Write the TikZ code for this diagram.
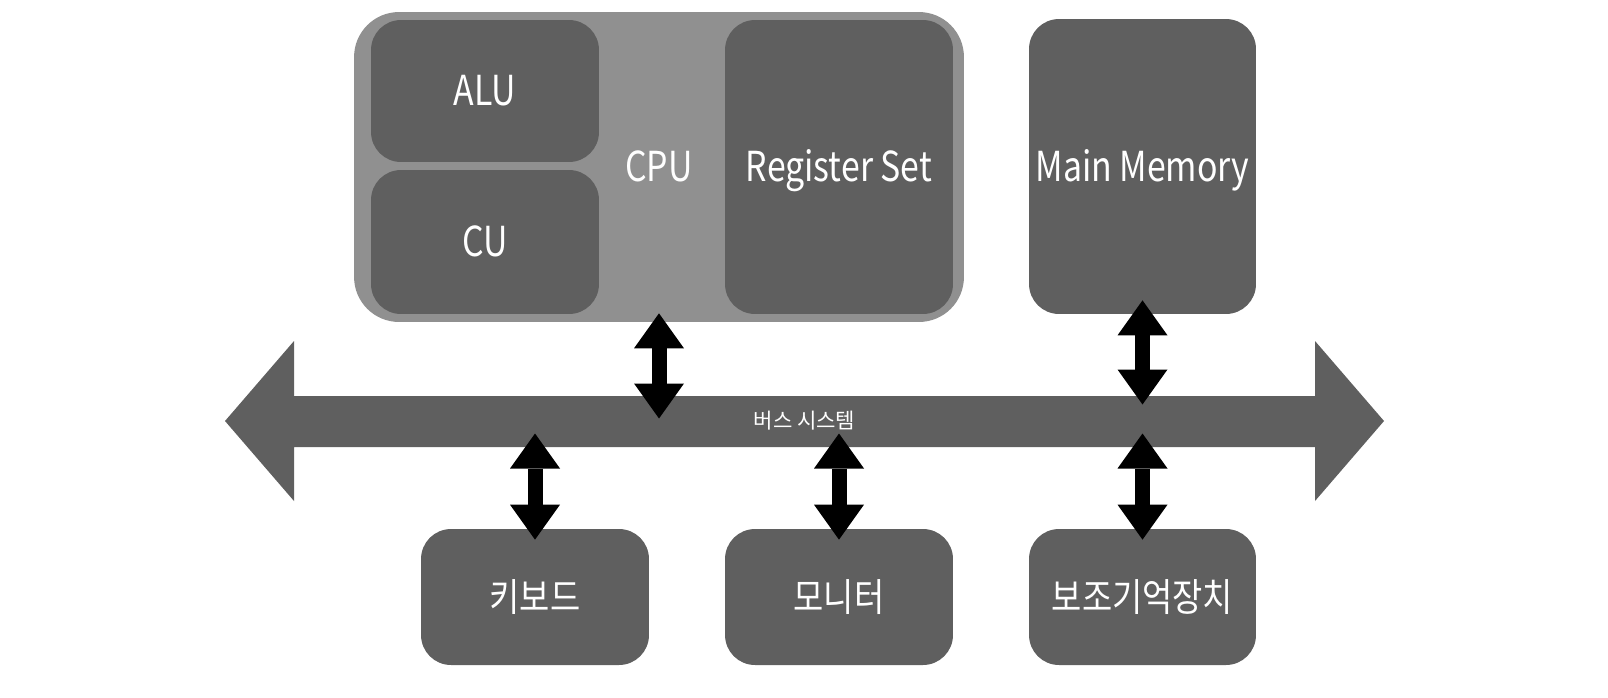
\documentclass[tikz,border=0pt]{standalone}
\usepackage{fontspec}
\setmainfont{Noto Sans CJK KR}[FakeStretch=0.82]
\newfontfamily\kofont{Noto Sans CJK KR}[FakeStretch=0.85]
\newfontfamily\busfont{Noto Sans CJK KR}
\usetikzlibrary{arrows.meta, calc}

\definecolor{boxgray}{RGB}{95,95,95}
\definecolor{cpugray}{RGB}{144,144,144}

\begin{document}
\begin{tikzpicture}[
    x=0.02cm, y=-0.02cm, % one unit = one pixel of the sketch, y runs down
    unit/.style={fill=boxgray, text=white, rounded corners=0.6cm, inner sep=0pt,
        minimum width=4.56cm}, % dark unit boxes
    latin/.style={text height=17pt, text depth=0pt, font=\fontsize{23.5}{28}\selectfont},
    box/.style={unit, latin},
    kobox/.style={unit, minimum height=2.72cm, font=\kofont\fontsize{22}{26}\selectfont},
    dblarrow/.style={line width=0.3cm,
        {Triangle[width=1cm, length=0.7cm, line width=0pt]}-{Triangle[width=1cm, length=0.7cm, line width=0pt]}}
]

\useasboundingbox (0,0) rectangle (1608,697);

% CPU with its parts
\node[fill=cpugray, text=white, rounded corners=0.9cm, minimum width=12.2cm, minimum height=6.2cm,
      latin] (cpu) at (659,167) {CPU};
\node[box, minimum height=2.84cm] (alu) at (485,91) {ALU};
\node[box, minimum height=2.88cm] (cu) at (485,242) {CU};
\node[box, minimum height=5.88cm] (reg) at (839,167) {Register Set};

% memory
\node[box, minimum width=4.54cm, minimum height=5.9cm] (mem) at (1142.5,166.5) {Main Memory};

% bus (big double arrow)
\fill[boxgray] (225,421) -- (294,341) -- (294,396) -- (1315,396) -- (1315,341) -- (1384,421)
    -- (1315,501) -- (1315,447) -- (294,447) -- (294,501) -- cycle;
\node[text=white, inner sep=0pt, font=\busfont\fontsize{12}{14}\selectfont] (bus) at (804.5,421) {버스 시스템};

% input / output devices
\node[kobox] (kbd) at (535,597) {키보드};
\node[kobox] (mon) at (839,597) {모니터};
\node[kobox, minimum width=4.54cm] (aux) at (1142.5,597) {보조기억장치};

% connections to the bus
\draw[dblarrow] ([yshift=0.18cm]cpu.south) -- ([yshift=0.05cm]cpu.south |- bus.center);
\draw[dblarrow] ([yshift=0.28cm]mem.south) -- ([yshift=0.33cm]mem.south |- bus.center);
\draw[dblarrow] ([yshift=-0.25cm]kbd.north |- bus.center) -- ([yshift=-0.22cm]kbd.north);
\draw[dblarrow] ([yshift=-0.25cm]mon.north |- bus.center) -- ([yshift=-0.22cm]mon.north);
\draw[dblarrow] ([yshift=-0.25cm]aux.north |- bus.center) -- ([yshift=-0.22cm]aux.north);

\end{tikzpicture}
\end{document}
